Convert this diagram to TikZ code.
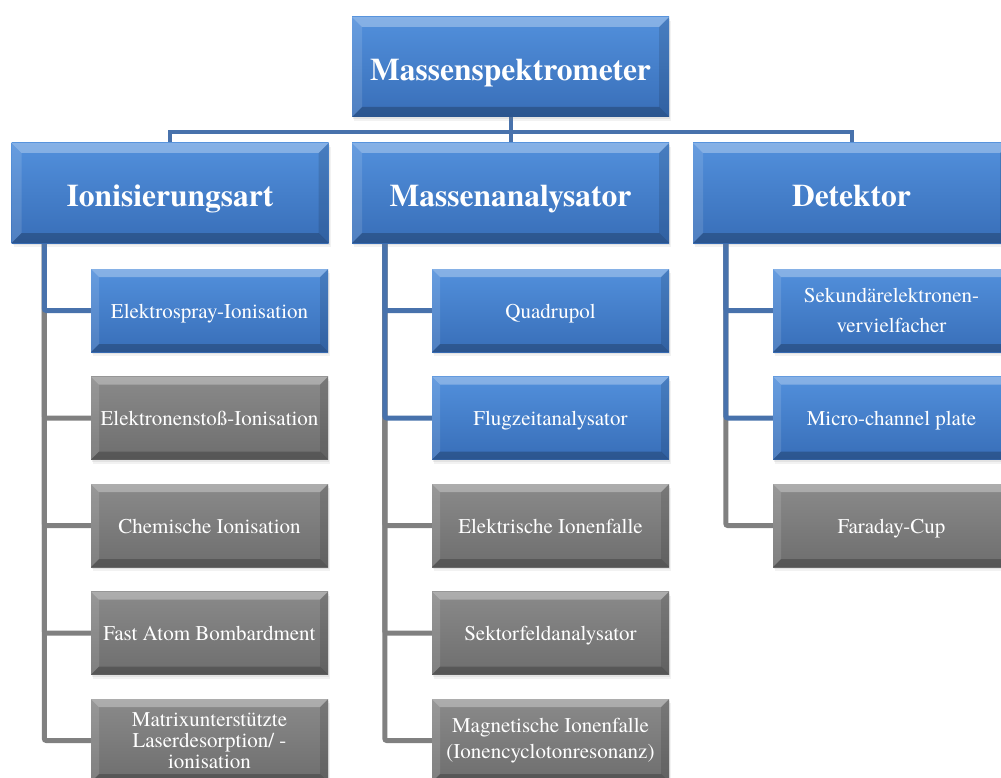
\documentclass[tikz,border=0pt]{standalone}
\usepackage{fontspec}
\setmainfont{texgyretermes}[Extension=.otf, UprightFont=*-regular, BoldFont=*-bold, ItalicFont=*-italic, BoldItalicFont=*-bolditalic]
\usetikzlibrary{calc,shadows}
\pgfdeclarelayer{bg}
\pgfsetlayers{bg,main}
\definecolor{bluetop}{RGB}{82,144,220}
\definecolor{bluebot}{RGB}{56,110,184}
\definecolor{greytop}{RGB}{138,138,138}
\definecolor{greybot}{RGB}{110,110,110}
\definecolor{linkblue}{RGB}{72,114,172}
\definecolor{linkgrey}{RGB}{128,128,128}
\tikzset{
  bevel/.style={path picture={
    \coordinate (pNW) at (path picture bounding box.north west);
    \coordinate (pNE) at (path picture bounding box.north east);
    \coordinate (pSW) at (path picture bounding box.south west);
    \coordinate (pSE) at (path picture bounding box.south east);
    \fill[white,opacity=0.30] (pNW) -- (pNE) -- ([shift={(-#1,-#1)}]pNE) -- ([shift={(#1,-#1)}]pNW) -- cycle;
    \fill[white,opacity=0.12] (pNW) -- ([shift={(#1,-#1)}]pNW) -- ([shift={(#1,#1)}]pSW) -- (pSW) -- cycle;
    \fill[black,opacity=0.12] (pNE) -- ([shift={(-#1,-#1)}]pNE) -- ([shift={(-#1,#1)}]pSE) -- (pSE) -- cycle;
    \fill[black,opacity=0.22] (pSW) -- ([shift={(#1,#1)}]pSW) -- ([shift={(-#1,#1)}]pSE) -- (pSE) -- cycle;
  }},
  box/.style={rectangle, inner sep=0pt, text=white, align=center,
    drop shadow={opacity=0.12, shadow xshift=1pt, shadow yshift=-2pt},
    drop shadow={opacity=0.10, shadow xshift=2pt, shadow yshift=-4pt}},
  bluefill/.style={top color=bluetop, bottom color=bluebot},
  greyfill/.style={top color=greytop, bottom color=greybot},
  bigbox/.style={box, bluefill, minimum width=317pt, minimum height=100pt,
    font=\fontsize{31.5}{36}\selectfont\bfseries, bevel=10pt,
    text height=27pt, text depth=0pt},
  smallbox/.style={box, minimum width=237pt, minimum height=83pt,
    font=\fontsize{21}{25}\selectfont, bevel=8pt},
  oneline/.style={text height=15pt, text depth=0pt},
  bchild/.style={smallbox, bluefill, oneline},
  gchild/.style={smallbox, greyfill, oneline},
  bmulti/.style={smallbox, bluefill},
  gmulti/.style={smallbox, greyfill},
  bus/.style={draw=linkblue, line width=4pt},
  bline/.style={draw=linkblue, line width=5pt, rounded corners=2pt},
  gline/.style={draw=linkgrey, line width=5pt, rounded corners=2pt}
}
\begin{document}
\begin{tikzpicture}[x=1pt,y=-1pt]
\useasboundingbox (0,0) rectangle (1001,778);
\clip (0,0) rectangle (1001,778);

\node[bigbox] (top) at (510.5,67) {Massenspektrometer};
\node[bigbox] (ion) at (170,193) {Ionisierungsart};
\node[bigbox] (mas) at (510.5,193) {Massenanalysator};
\node[bigbox] (det) at (851.5,193) {Detektor};

\node[bchild] (i1) at (209.5,310.5) {Elektrospray-Ionisation};
\node[gchild] (i2) at (209.5,418) {Elektronenstoß-Ionisation};
\node[gchild] (i3) at (209.5,525.5) {Chemische Ionisation};
\node[gchild] (i4) at (209.5,633) {Fast Atom Bombardment};
\node[gmulti, font=\fontsize{21}{21}\selectfont] (i5) at (209.5,740.5) {Matrixunterstützte\\Laserdesorption/ -\\ionisation};

\node[bchild] (m1) at (550.5,310.5) {Quadrupol};
\node[bchild] (m2) at (550.5,418) {Flugzeitanalysator};
\node[gchild] (m3) at (550.5,525.5) {Elektrische Ionenfalle};
\node[gchild] (m4) at (550.5,633) {Sektorfeldanalysator};
\node[gmulti, font=\fontsize{21}{26}\selectfont] (m5) at (550.5,740.5) {Magnetische Ionenfalle\\(Ionencyclotonresonanz)};

\node[bmulti, font=\fontsize{21}{30}\selectfont] (d1) at (891.5,310.5) {Sekundärelektronen-\\vervielfacher};
\node[bchild] (d2) at (891.5,418) {Micro-channel plate};
\node[gchild] (d3) at (891.5,525.5) {Faraday-Cup};

\coordinate (ionA) at ($(ion.south west)+(33,0)$);
\coordinate (masA) at ($(mas.south west)+(33,0)$);
\coordinate (detA) at ($(det.south west)+(33,0)$);

\begin{pgfonlayer}{bg}
  \fill[white] (0,0) rectangle (1001,778);
  \draw[bus] (top.south) -- ++(0,15) coordinate (busmid);
  \draw[bus] (ion.north) |- (busmid) -| (det.north);
  \draw[bus] (busmid) -- (mas.north);
  \foreach \c in {i2,i3,i4,i5} \draw[gline] (ionA) |- (\c.west);
  \draw[bline] (ionA) |- (i1.west);
  \foreach \c in {m3,m4,m5} \draw[gline] (masA) |- (\c.west);
  \foreach \c in {m1,m2} \draw[bline] (masA) |- (\c.west);
  \draw[gline] (detA) |- (d3.west);
  \foreach \c in {d1,d2} \draw[bline] (detA) |- (\c.west);
\end{pgfonlayer}
\end{tikzpicture}
\end{document}
